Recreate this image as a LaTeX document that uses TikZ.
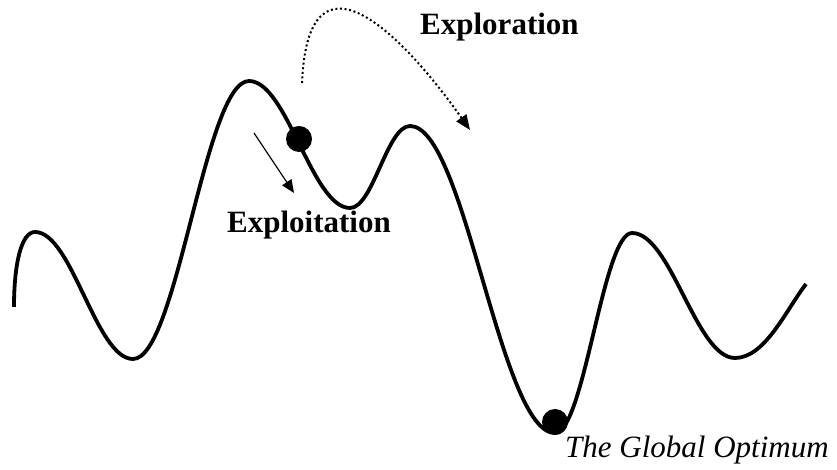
\documentclass[tikz,border=0pt]{standalone}
\usepackage{fontspec}
\setmainfont{Liberation Serif}
\usetikzlibrary{arrows.meta, positioning}
\tikzset{
  curve/.style   ={line width=3.8pt, line join=round},
  agent/.style   ={circle, fill=black, minimum size=26pt, inner sep=0pt},
  exploit/.style ={-{Triangle[length=13pt, width=11pt]}, line width=1.2pt},            % local step downhill
  explore/.style ={-{Triangle[length=15pt, width=12pt]}, line width=2pt, dash pattern=on 2pt off 2.6pt}, % jump to another basin
  lbl/.style     ={font=\fontsize{31}{36}\selectfont\bfseries, inner sep=0pt, anchor=base west},
  capt/.style    ={font=\fontsize{31}{36}\selectfont\itshape, inner sep=0pt, anchor=base west},
}
\begin{document}
\begin{tikzpicture}[x=1pt, y=1pt]
  \useasboundingbox (0,0) rectangle (837,470);

  % the fitness landscape
  \draw[curve] (14,163) .. controls +(0,42) and +(-14,0) .. (35,238)
    .. controls +(37,0) and +(-37,0) .. (133,111)
    .. controls +(44,0) and +(-44,0) .. (249,389)
    .. controls +(38,0) and +(-38,0) .. (350,262)
    .. controls +(23,0) and +(-23,0) .. (410,344)
    .. controls +(55,0) and +(-55,0) .. (555,37)
    .. controls +(29,0) and +(-29,0) .. (632,237)
    .. controls +(39,0) and +(-39,0) .. (735,112)
    .. controls +(30,0) and +(-20,-26) .. (806,186);

  % current point and the optimum
  \node[agent] (ball) at (299,331) {};
  \node[agent] (opt)  at (555,48)  {};

  % exploitation: small step down the slope
  \coordinate (xs) at (254,337);
  \coordinate (xe) at (294,277);
  \draw[exploit] (xs) -- (xe);
  \node[lbl] (exploit) at (227,237) {Exploitation};

  % exploration: jump over the hill
  \coordinate (rs) at (302,387);
  \coordinate (re) at (470,340);
  \draw[explore] (rs) .. controls (308,530) and (401,438) .. (re);
  \node[lbl] (explore) at (420,435) {Exploration};

  \node[capt] (optlbl) at (565,12) {The Global Optimum};
\end{tikzpicture}
\end{document}
